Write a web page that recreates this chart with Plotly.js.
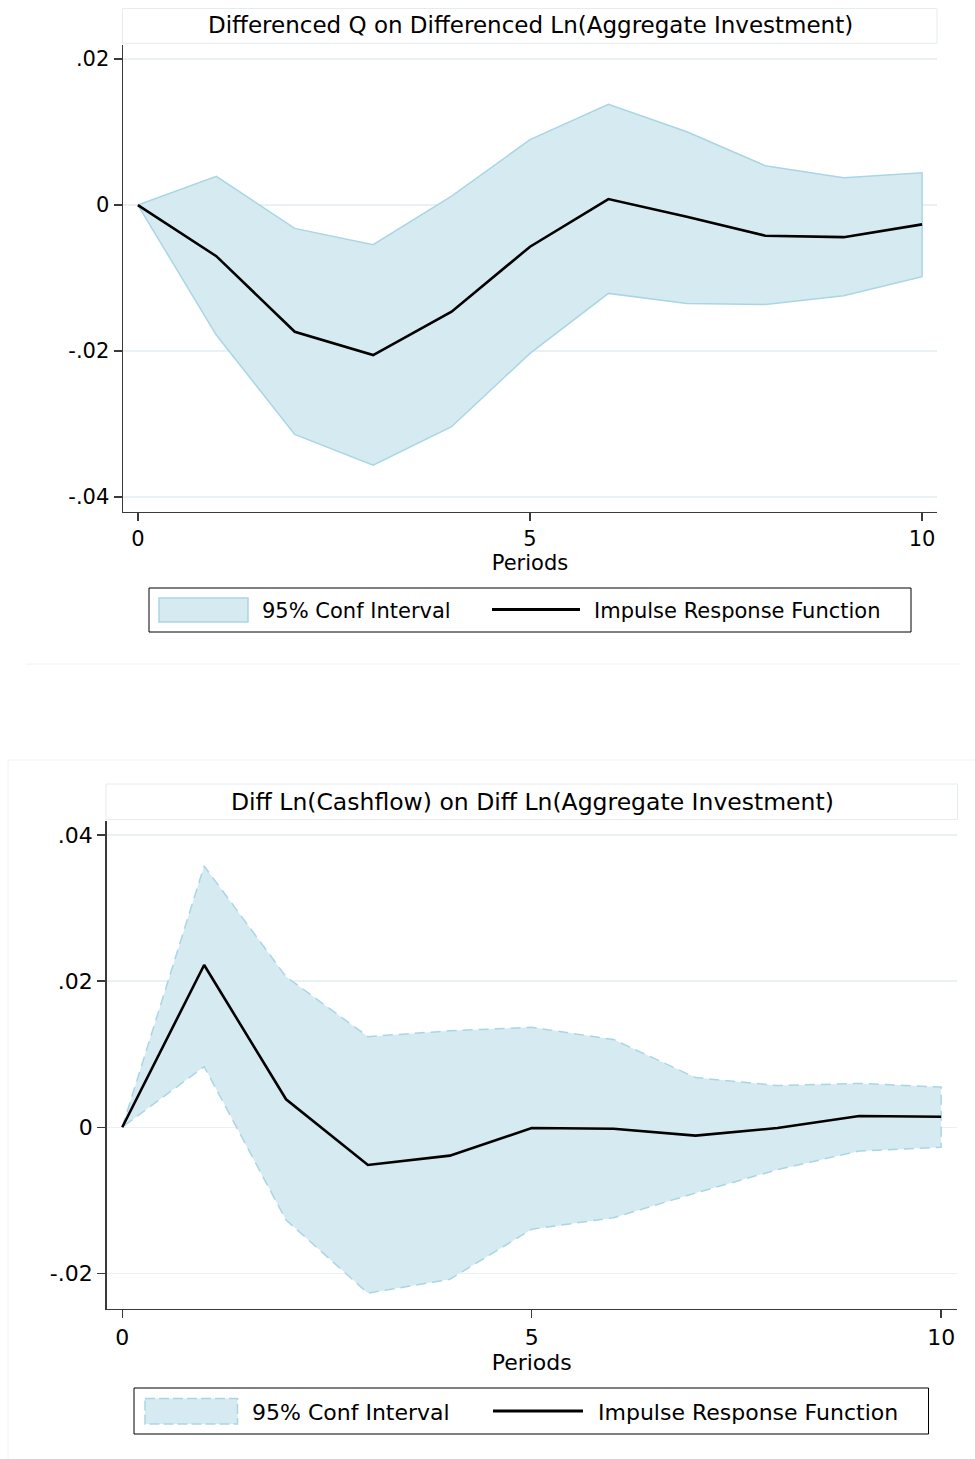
<!DOCTYPE html>
<html><head><meta charset="utf-8">
<script src="https://cdn.plot.ly/plotly-3.0.1.min.js"></script>
<style>html,body{margin:0;padding:0;background:#fff}</style>
</head><body>
<div id="chart" style="width:975px;height:1459px"></div>
<script>
// ---- data ----
const periods = [0,1,2,3,4,5,6,7,8,9,10];
const qIrf   = [0,-0.0070,-0.01735,-0.02055,-0.01461,-0.00571,0.00082,-0.0016,-0.0042,-0.0044,-0.00265];
const qUpper = [0,0.00393,-0.0032,-0.00543,0.00123,0.00895,0.01379,0.01004,0.00539,0.00374,0.00443];
const qLower = [0,-0.01781,-0.03141,-0.03562,-0.03036,-0.02032,-0.0121,-0.01347,-0.01361,-0.01242,-0.00982];
const cfIrf   = [0,0.0222,0.00383,-0.00516,-0.00388,-0.0001,-0.0002,-0.00114,-0.0001,0.00155,0.00145];
const cfUpper = [0,0.03575,0.0206,0.0124,0.0132,0.01368,0.0120,0.0068,0.0057,0.0060,0.0055];
const cfLower = [0,0.0083,-0.01268,-0.0227,-0.0208,-0.01395,-0.01237,-0.0090,-0.0058,-0.00324,-0.00274];
const xTickVals = [0,5,10];
const yTickVals1 = [-0.04,-0.02,0,0.02];
const yTickText1 = ['-.04','-.02','0','.02'];
const yTickVals2 = [-0.02,0,0.02,0.04];
const yTickText2 = ['-.02','0','.02','.04'];
const panelTitles = ['Differenced Q on Differenced Ln(Aggregate Investment)','Diff Ln(Cashflow) on Diff Ln(Aggregate Investment)'];
const xTitle = 'Periods';
const legendLabels = ['95% Conf Interval','Impulse Response Function'];

// ---- styling ----
const W = 975, H = 1459;
const px = v => v / W;
const py = v => 1 - v / H;
const FONT = 'DejaVu Sans';
const ciFill = 'rgb(213,234,241)';
const ciLine = 'rgb(170,214,228)';
const axisCol = '#3a3a3a';
const gridCol = '#e9f1f4';
const boxCol = '#e4ecf0';

function band(upper, lower, xa, ya, dash) {
  return {
    x: periods.concat(periods.slice().reverse()),
    y: upper.concat(lower.slice().reverse()),
    xaxis: xa, yaxis: ya, type: 'scatter', mode: 'lines',
    fill: 'toself', fillcolor: ciFill,
    line: {color: ciLine, width: 1.5, dash: dash},
    name: legendLabels[0], showlegend: false, hoverinfo: 'skip'
  };
}
function irf(vals, xa, ya) {
  return {
    x: periods, y: vals, xaxis: xa, yaxis: ya, type: 'scatter', mode: 'lines',
    line: {color: '#000', width: 2.6}, name: legendLabels[1], showlegend: false
  };
}

const traces = [
  band(qUpper, qLower, 'x', 'y', 'solid'),
  irf(qIrf, 'x', 'y'),
  band(cfUpper, cfLower, 'x2', 'y2', '10px,6px'),
  irf(cfIrf, 'x2', 'y2')
];

function xAxis(domain, anchor, fs) {
  return {
    domain: domain, anchor: anchor, range: [-0.19, 10.19],
    tickmode: 'array', tickvals: xTickVals, ticktext: xTickVals.map(String),
    ticks: 'outside', ticklen: 8, tickwidth: 1.5, tickcolor: axisCol,
    showline: true, linecolor: axisCol, linewidth: 1.5,
    showgrid: false, zeroline: false,
    tickfont: {family: FONT, size: fs, color: '#000'},
    title: {text: xTitle, font: {family: FONT, size: fs, color: '#000'}, standoff: 4}
  };
}
function yAxis(domain, anchor, range, vals, text, fs) {
  return {
    domain: domain, anchor: anchor, range: range,
    tickmode: 'array', tickvals: vals, ticktext: text,
    ticks: 'outside', ticklen: 8, tickwidth: 1.5, tickcolor: axisCol,
    showline: true, linecolor: axisCol, linewidth: 1.5,
    showgrid: true, gridcolor: gridCol, gridwidth: 1.5, zeroline: false,
    tickfont: {family: FONT, size: fs, color: '#000'}
  };
}

const shapes = [
  // graph region borders
  {type: 'line', xref: 'paper', yref: 'paper', x0: px(26), x1: px(961), y0: py(664), y1: py(664), line: {color: '#eef2f4', width: 1}},
  {type: 'rect', xref: 'paper', yref: 'paper', x0: px(8), x1: px(990), y0: py(760), y1: py(1480), line: {color: '#eef2f4', width: 1}},
  // title boxes
  {type: 'rect', xref: 'paper', yref: 'paper', x0: px(122.5), x1: px(937), y0: py(8.5), y1: py(43.3), line: {color: boxCol, width: 1}},
  {type: 'rect', xref: 'paper', yref: 'paper', x0: px(106), x1: px(957.5), y0: py(784), y1: py(819.5), line: {color: boxCol, width: 1}},
  // legend 1
  {type: 'rect', xref: 'paper', yref: 'paper', x0: px(149), x1: px(911), y0: py(588), y1: py(632), line: {color: '#000', width: 1}},
  {type: 'rect', xref: 'paper', yref: 'paper', x0: px(159), x1: px(248), y0: py(598), y1: py(622), fillcolor: ciFill, line: {color: ciLine, width: 1.5}},
  {type: 'line', xref: 'paper', yref: 'paper', x0: px(492), x1: px(580), y0: py(609.5), y1: py(609.5), line: {color: '#000', width: 3}},
  // legend 2
  {type: 'rect', xref: 'paper', yref: 'paper', x0: px(134), x1: px(928.5), y0: py(1388), y1: py(1434), line: {color: '#000', width: 1}},
  {type: 'rect', xref: 'paper', yref: 'paper', x0: px(145), x1: px(237.5), y0: py(1398.5), y1: py(1424), fillcolor: ciFill, line: {color: ciLine, width: 1.5, dash: '10px,4px'}},
  {type: 'line', xref: 'paper', yref: 'paper', x0: px(493), x1: px(583), y0: py(1411), y1: py(1411), line: {color: '#000', width: 3}}
];

function ann(text, x, y, size, anchor) {
  return {text: text, xref: 'paper', yref: 'paper', x: px(x), y: py(y), xanchor: anchor, yanchor: 'middle',
          showarrow: false, font: {family: FONT, size: size, color: '#000'}, borderpad: 0};
}
const annotations = [
  ann(panelTitles[0], 530, 25, 23, 'center'),
  ann(panelTitles[1], 532, 801.5, 23.5, 'center'),
  ann(legendLabels[0], 261, 611, 21, 'left'),
  ann(legendLabels[1], 593, 611, 21, 'left'),
  ann(legendLabels[0], 251, 1412, 22, 'left'),
  ann(legendLabels[1], 597, 1412, 22, 'left')
];

const layout = {
  width: W, height: H,
  margin: {l: 0, r: 0, t: 0, b: 0},
  paper_bgcolor: '#fff', plot_bgcolor: '#fff',
  showlegend: false,
  font: {family: FONT, color: '#000'},
  xaxis: xAxis([px(123), px(937)], 'y', 21),
  yaxis: yAxis([py(511.7), py(44.7)], 'x', [-0.0420, 0.02196], yTickVals1, yTickText1, 21),
  xaxis2: xAxis([px(106.7), px(956.7)], 'y2', 22),
  yaxis2: yAxis([py(1308.7), py(821)], 'x2', [-0.02482, 0.0419], yTickVals2, yTickText2, 22),
  shapes: shapes,
  annotations: annotations
};

Plotly.newPlot('chart', traces, layout, {displayModeBar: false, staticPlot: true});
</script>
</body></html>
